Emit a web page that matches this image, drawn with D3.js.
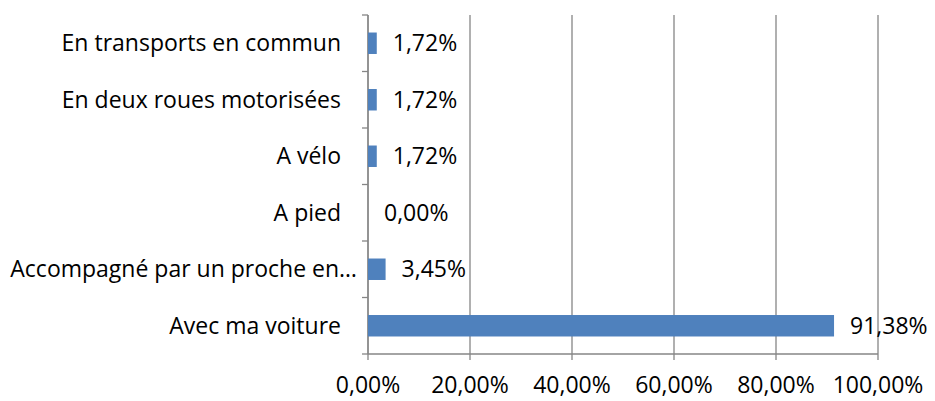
<!DOCTYPE html>
<html>
<head>
<meta charset="utf-8">
<script src="https://cdn.jsdelivr.net/npm/d3@7"></script>
<style>
  body { margin: 0; background: #fff; }
  text { font-family: "Open Sans", sans-serif; fill: #000; }
</style>
</head>
<body>
<svg id="chart" width="935" height="401"></svg>
<script>
// categories from top to bottom, as shown in the chart
const categories = [
  'En transports en commun',
  'En deux roues motorisées',
  'A vélo',
  'A pied',
  'Accompagné par un proche en…',
  'Avec ma voiture'
];
const values = [1.72, 1.72, 1.72, 0.00, 3.45, 91.38];
const xTicks = [0, 20, 40, 60, 80, 100];

const svg = d3.select('#chart');
const margin = { top: 15, right: 57, bottom: 47, left: 368 };
const width = +svg.attr('width') - margin.left - margin.right,
  height = +svg.attr('height') - margin.top - margin.bottom;

const fmt = v => v.toFixed(2).replace('.', ',') + '%';
const fontSize = '23px';

const x = d3.scaleLinear().domain([0, 100]).range([0, width]);
const y = d3.scaleBand().domain(categories).range([0, height]).paddingInner(0.62).paddingOuter(0.31);
const yEdges = d3.scaleLinear().domain([0, categories.length]).range([0, height]);

const g = svg.append('g').attr('transform', `translate(${margin.left},${margin.top})`);

// vertical gridlines (extend slightly below the axis like tick marks)
g.append('g')
  .selectAll('line')
  .data(xTicks)
  .enter().append('line')
  .attr('x1', d => x(d)).attr('x2', d => x(d))
  .attr('y1', 0).attr('y2', height + 6)
  .attr('stroke', '#868686')
  .attr('stroke-width', 1.3);

// bottom axis line
g.append('line')
  .attr('x1', 0).attr('x2', width)
  .attr('y1', height).attr('y2', height)
  .attr('stroke', '#868686').attr('stroke-width', 1.3);

// left axis line + category tick marks
g.append('line')
  .attr('x1', 0).attr('x2', 0)
  .attr('y1', 0).attr('y2', height)
  .attr('stroke', '#868686').attr('stroke-width', 1.3);

g.append('g')
  .selectAll('line')
  .data(d3.range(categories.length + 1))
  .enter().append('line')
  .attr('x1', -6).attr('x2', 0)
  .attr('y1', d => yEdges(d)).attr('y2', d => yEdges(d))
  .attr('stroke', '#868686').attr('stroke-width', 1.3);

// bars
g.append('g')
  .selectAll('rect')
  .data(categories)
  .enter().append('rect')
  .attr('x', 0)
  .attr('y', d => y(d))
  .attr('width', (d, i) => x(values[i]))
  .attr('height', y.bandwidth())
  .attr('fill', '#4F81BD');

// value labels
g.append('g')
  .selectAll('text')
  .data(categories)
  .enter().append('text')
  .attr('x', (d, i) => x(values[i]) + 16)
  .attr('y', d => y(d) + y.bandwidth() / 2)
  .attr('dy', '0.35em')
  .attr('font-size', fontSize)
  .text((d, i) => fmt(values[i]));

// category labels (the truncated one runs closer to the axis, as in Excel)
g.append('g')
  .selectAll('text')
  .data(categories)
  .enter().append('text')
  .attr('x', d => d.endsWith('…') ? -11 : -27)
  .attr('y', d => y(d) + y.bandwidth() / 2)
  .attr('dy', '0.35em')
  .attr('text-anchor', 'end')
  .attr('font-size', fontSize)
  .text(d => d);

// x tick labels
g.append('g')
  .selectAll('text')
  .data(xTicks)
  .enter().append('text')
  .attr('x', d => x(d))
  .attr('y', height + 31)
  .attr('dy', '0.35em')
  .attr('text-anchor', 'middle')
  .attr('font-size', fontSize)
  .text(d => fmt(d));
</script>
</body>
</html>
